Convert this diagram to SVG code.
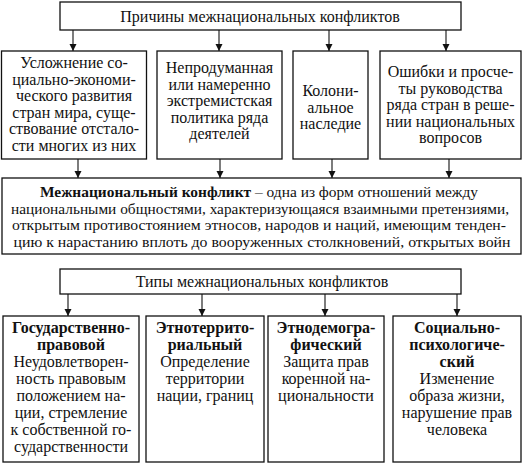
<svg xmlns="http://www.w3.org/2000/svg" width="524" height="464" viewBox="0 0 524 464">
<style>
.box{fill:#fff;stroke:#111;stroke-width:1.3}
text{font-family:"Liberation Serif","Times New Roman",serif;font-size:16px;fill:#111;text-anchor:middle}
.b{font-weight:bold}
.m{font-size:15.5px}
.c{stroke:#111;stroke-width:1.1;fill:none}
</style>
<defs>
<marker id="ah" markerUnits="userSpaceOnUse" markerWidth="8" markerHeight="9" refX="7" refY="4" orient="auto">
<path d="M0,0.5 L7,4 L0,7.5 z" fill="#111"/>
</marker>
</defs>
<rect width="524" height="464" fill="#fff"/>
<g id="connectors">
<line class="c" x1="73" y1="30" x2="73" y2="51" marker-end="url(#ah)"/>
<line class="c" x1="219" y1="30" x2="219" y2="51" marker-end="url(#ah)"/>
<line class="c" x1="329" y1="30" x2="329" y2="51" marker-end="url(#ah)"/>
<line class="c" x1="446" y1="30" x2="446" y2="51" marker-end="url(#ah)"/>
<line class="c" x1="78" y1="159" x2="78" y2="178" marker-end="url(#ah)"/>
<line class="c" x1="220" y1="159" x2="220" y2="178" marker-end="url(#ah)"/>
<line class="c" x1="332" y1="159" x2="332" y2="178" marker-end="url(#ah)"/>
<line class="c" x1="449" y1="159" x2="449" y2="178" marker-end="url(#ah)"/>
<line class="c" x1="68" y1="294" x2="68" y2="316" marker-end="url(#ah)"/>
<line class="c" x1="202" y1="294" x2="202" y2="316" marker-end="url(#ah)"/>
<line class="c" x1="325" y1="294" x2="325" y2="316" marker-end="url(#ah)"/>
<line class="c" x1="457" y1="294" x2="457" y2="316" marker-end="url(#ah)"/>
</g>
<g id="causes">
<rect class="box" x="60" y="2" width="401" height="28"/>
<text x="260" y="22">Причины межнациональных конфликтов</text>
</g>
<g id="cause1">
<rect class="box" x="1.5" y="51" width="145" height="108"/>
<text x="74" y="68">Усложнение со-</text>
<text x="74" y="84.5">циально-экономи-</text>
<text x="74" y="101">ческого развития</text>
<text x="74" y="117.5">стран мира, суще-</text>
<text x="74" y="134">ствование отстало-</text>
<text x="74" y="150.5">сти многих из них</text>
</g>
<g id="cause2">
<rect class="box" x="157" y="51" width="125" height="108"/>
<text x="219.5" y="73">Непродуманная</text>
<text x="219.5" y="89.5">или намеренно</text>
<text x="219.5" y="106">экстремистская</text>
<text x="219.5" y="122.5">политика ряда</text>
<text x="219.5" y="139">деятелей</text>
</g>
<g id="cause3">
<rect class="box" x="293" y="51" width="75" height="108"/>
<text x="330.5" y="96">Колони-</text>
<text x="330.5" y="112.5">альное</text>
<text x="330.5" y="129">наследие</text>
</g>
<g id="cause4">
<rect class="box" x="380" y="51" width="141" height="108"/>
<text x="450.5" y="77">Ошибки и просче-</text>
<text x="450.5" y="93.5">ты руководства</text>
<text x="450.5" y="110">ряда стран в реше-</text>
<text x="450.5" y="126.5">нии национальных</text>
<text x="450.5" y="143">вопросов</text>
</g>
<g id="definition">
<rect class="box" x="2" y="178" width="519" height="76"/>
<text class="m" x="259" y="197" textLength="438" lengthAdjust="spacingAndGlyphs"><tspan class="b">Межнациональный конфликт</tspan> – одна из форм отношений между</text>
<text class="m" x="260" y="213.5" textLength="498" lengthAdjust="spacingAndGlyphs">национальными общностями, характеризующаяся взаимными претензиями,</text>
<text class="m" x="259" y="230" textLength="494" lengthAdjust="spacingAndGlyphs">открытым противостоянием этносов, народов и наций, имеющим тенден-</text>
<text class="m" x="262" y="246.5" textLength="497" lengthAdjust="spacingAndGlyphs">цию к нарастанию вплоть до вооруженных столкновений, открытых войн</text>
</g>
<g id="types">
<rect class="box" x="60" y="269" width="401" height="25"/>
<text x="262" y="287">Типы межнациональных конфликтов</text>
</g>
<g id="type1">
<rect class="box" x="3" y="316" width="136" height="146"/>
<text class="b" x="71" y="333">Государственно-</text>
<text class="b" x="71" y="350">правовой</text>
<text x="71" y="367">Неудовлетворен-</text>
<text x="71" y="384">ность правовым</text>
<text x="71" y="401">положением на-</text>
<text x="71" y="418">ции, стремление</text>
<text x="71" y="435">к собственной го-</text>
<text x="71" y="452">сударственности</text>
</g>
<g id="type2">
<rect class="box" x="146" y="316" width="118" height="146"/>
<text class="b" x="205" y="333">Этнотеррито-</text>
<text class="b" x="205" y="350">риальный</text>
<text x="205" y="367">Определение</text>
<text x="205" y="384">территории</text>
<text x="205" y="401">нации, границ</text>
</g>
<g id="type3">
<rect class="box" x="268" y="316" width="116" height="146"/>
<text class="b" x="326" y="333">Этнодемогра-</text>
<text class="b" x="326" y="350">фический</text>
<text x="326" y="367">Защита прав</text>
<text x="326" y="384">коренной на-</text>
<text x="326" y="401">циональности</text>
</g>
<g id="type4">
<rect class="box" x="393" y="316" width="128" height="146"/>
<text class="b" x="457" y="333">Социально-</text>
<text class="b" x="457" y="350">психологиче-</text>
<text class="b" x="457" y="367">ский</text>
<text x="457" y="384">Изменение</text>
<text x="457" y="401">образа жизни,</text>
<text x="457" y="418">нарушение прав</text>
<text x="457" y="435">человека</text>
</g>
</svg>
